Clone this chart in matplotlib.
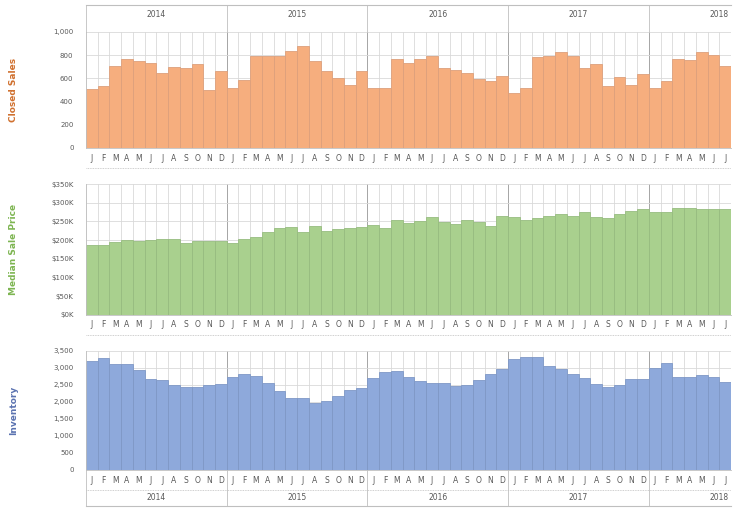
import matplotlib

matplotlib.use("Agg")

import matplotlib.pyplot as plt
import numpy as np
from matplotlib.ticker import FuncFormatter

# monthly data, Jan 2014 .. Jul 2018
month_labels = list("JFMAMJJASOND") * 4 + list("JFMAMJJ")
years = ["2014", "2015", "2016", "2017", "2018"]

closed_sales = [
    510, 532, 705, 765, 752, 734, 647, 699, 690, 728, 497, 662,
    517, 590, 797, 797, 790, 840, 878, 749, 662, 604, 546, 662,
    517, 517, 769, 734, 763, 797, 690, 676, 647, 595, 575, 624,
    474, 517, 786, 792, 827, 792, 690, 728, 532, 613, 546, 642,
    517, 575, 769, 757, 827, 806, 705,
]

median_price = [  # $K
    187, 187, 195, 200, 197, 200, 204, 203, 193, 198, 198, 198,
    193, 202, 209, 222, 231, 234, 222, 238, 225, 229, 231, 236,
    240, 231, 254, 246, 252, 262, 249, 243, 254, 249, 237, 264,
    262, 254, 258, 264, 271, 264, 276, 262, 258, 270, 279, 282,
    276, 276, 287, 285, 282, 282, 282,
]

inventory = [
    3207, 3275, 3109, 3109, 2933, 2659, 2640, 2493, 2425, 2425, 2493, 2522,
    2737, 2816, 2757, 2561, 2327, 2102, 2102, 1975, 2033, 2170, 2346, 2395,
    2689, 2884, 2913, 2718, 2620, 2561, 2542, 2464, 2493, 2640, 2816, 2953,
    3246, 3304, 3304, 3050, 2953, 2816, 2689, 2522, 2425, 2493, 2659, 2659,
    2982, 3128, 2737, 2737, 2786, 2737, 2591,
]

W, H = 733, 508
fig = plt.figure(figsize=(W / 100, H / 100), dpi=100)
fig.patch.set_facecolor("white")

x = np.arange(len(month_labels))
x0, x1 = 86, 731
left = x0 / W
width = (x1 - x0) / W

panels = [
    dict(data=closed_sales, top=32, bot=148, ymax=1000, step=200,
         fc="#F6AE7E", ec="#DDA07C", label="Closed Sales", lc="#D0702E",
         fmt=lambda v, p: f"{int(v):,}"),
    dict(data=median_price, top=184, bot=314.7, ymax=350, step=50,
         fc="#A9D08E", ec="#97BC80", label="Median Sale Price", lc="#7DB551",
         fmt=lambda v, p: f"${int(v)}K"),
    dict(data=inventory, top=350.7, bot=470, ymax=3500, step=500,
         fc="#8EA9DB", ec="#7F98C6", label="Inventory", lc="#5A72B0",
         fmt=lambda v, p: f"{int(v):,}"),
]

year_starts = [0, 12, 24, 36, 48]

axes = []
for p in panels:
    h = p["bot"] - p["top"]
    ax = fig.add_axes([left, 1 - p["bot"] / H, width, h / H])
    axes.append(ax)
    ax.bar(x, p["data"], width=1.0, color=p["fc"], edgecolor=p["ec"],
           linewidth=0.6, zorder=2)
    ax.set_xlim(-0.5, len(x) - 0.5)
    ax.set_ylim(0, p["ymax"])
    ax.set_yticks(np.arange(0, p["ymax"] + 1, p["step"]))
    ax.yaxis.set_major_formatter(FuncFormatter(p["fmt"]))
    ax.tick_params(axis="y", length=0, labelsize=5, colors="#595959", pad=9)
    ax.set_xticks(x)
    ax.set_xticklabels(month_labels, fontsize=5.5, color="#595959")
    ax.tick_params(axis="x", length=0, pad=4)
    # grid: horizontal at ticks, vertical at month boundaries
    ax.grid(axis="y", color="#D9D9D9", linewidth=0.6, zorder=0)
    for b in np.arange(-0.5, len(x), 1.0):
        ax.axvline(b, color="#D9D9D9", linewidth=0.6, zorder=0)
    for b in year_starts[1:]:
        ax.axvline(b - 0.5, color="#A6A6A6", linewidth=0.7, zorder=1)
    for s in ["top", "right"]:
        ax.spines[s].set_visible(False)
    for s in ["left", "bottom"]:
        ax.spines[s].set_color("#BFBFBF")
        ax.spines[s].set_linewidth(0.6)
    ax.set_ylabel(p["label"], fontsize=6.5, fontweight="bold", color=p["lc"])
    ax.yaxis.set_label_coords(-(x0 - 18) / (x1 - x0), 0.5)
    # dotted line under the month labels
    line_y = -(20 / h)
    ax.plot([0, 1], [line_y, line_y], transform=ax.transAxes, clip_on=False,
            color="#BFBFBF", linewidth=0.6, linestyle=(0, (1, 1)))

# year labels above the first panel and below the last one
for ax, p, where in [(axes[0], panels[0], "top"), (axes[2], panels[2], "bottom")]:
    h = p["bot"] - p["top"]
    trans = ax.get_xaxis_transform()
    if where == "top":
        ty = 1 + (p["top"] - 15) / h
        line_y = 1 + (p["top"] - 5) / h
        base = 1
    else:
        ty = -(497 - p["bot"]) / h
        line_y = -(506 - p["bot"]) / h
        base = 0
    for i, yr in enumerate(years):
        if i < 4:
            ax.text(year_starts[i] + 5.5, ty, yr, transform=trans, ha="center",
                    va="center", fontsize=5.5, color="#595959")
        else:
            ax.text(54.3, ty, yr, transform=trans, ha="right", va="center",
                    fontsize=5.5, color="#595959", clip_on=False)
    ax.plot([-0.5, len(x) - 0.5], [line_y, line_y], transform=trans,
            clip_on=False, color="#BFBFBF", linewidth=0.8)
    for b in year_starts:
        ax.plot([b - 0.5, b - 0.5], [base, line_y], transform=trans,
                clip_on=False, color="#BFBFBF", linewidth=0.6)

fig.savefig("out.png", dpi=100, facecolor="white")
